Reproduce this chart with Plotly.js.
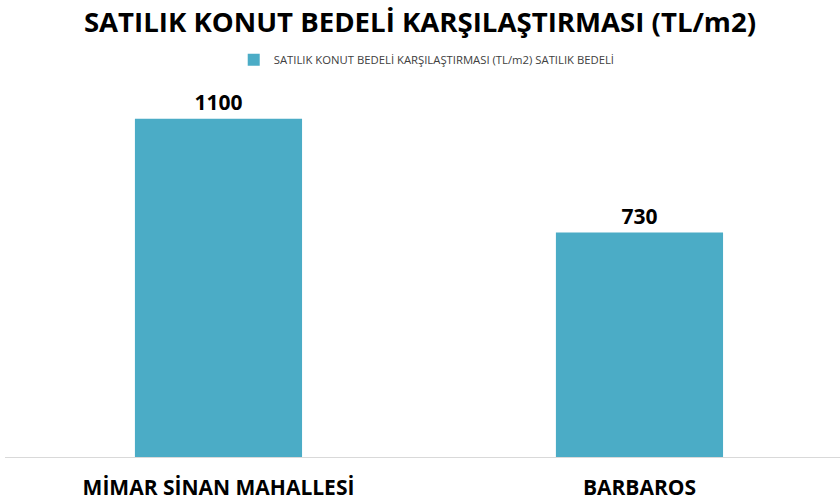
<!DOCTYPE html>
<html><head><meta charset="utf-8">
<script src="https://cdn.plot.ly/plotly-3.0.1.min.js"></script>
<style>body{margin:0;background:#fff}#c{width:840px;height:503px}</style>
</head><body><div id="c"></div>
<script>
const categories = ["MİMAR SİNAN MAHALLESİ", "BARBAROS"];
const values = [1100, 730];
const seriesName = "SATILIK KONUT BEDELİ KARŞILAŞTIRMASI (TL/m2) SATILIK BEDELİ";
const titleText = "SATILIK KONUT BEDELİ KARŞILAŞTIRMASI (TL/m2)";
const FONT = '"Open Sans", "DejaVu Sans Condensed", sans-serif';

Plotly.newPlot('c', [{
  type: 'bar', x: categories, y: values, name: seriesName,
  marker: {color: '#4BACC6'},
  text: values.map(String), textposition: 'outside', cliponaxis: false,
  textfont: {family: FONT, size: 21, color: '#000', weight: 'bold'},
  showlegend: true
}], {
  width: 840, height: 503,
  margin: {l: 5, r: 0, t: 80, b: 46},
  paper_bgcolor: '#fff', plot_bgcolor: '#fff',
  title: {text: '<b>' + titleText + '</b>', x: 0.5, xanchor: 'center', y: 0.956, yanchor: 'middle',
          font: {family: FONT, size: 27.6, color: '#000'}},
  showlegend: true,
  legend: {orientation: 'h', x: 0.508, xanchor: 'center', xref: 'container', y: 0.881, yanchor: 'middle', yref: 'container',
           font: {family: FONT, size: 11.3, color: '#404040'}, itemwidth: 30},
  bargap: 0.603,
  xaxis: {range: [-0.5071, 1.4763], showline: true, linecolor: '#d9d9d9', linewidth: 1,
          ticks: '', showgrid: false, zeroline: false, fixedrange: true, ticklabelstandoff: 12,
          tickfont: {family: FONT, size: 21, color: '#000', weight: 'bold'}},
  yaxis: {range: [0, 1226], visible: false, showgrid: false, zeroline: false}
}, {displayModeBar: false, staticPlot: true});
</script></body></html>
